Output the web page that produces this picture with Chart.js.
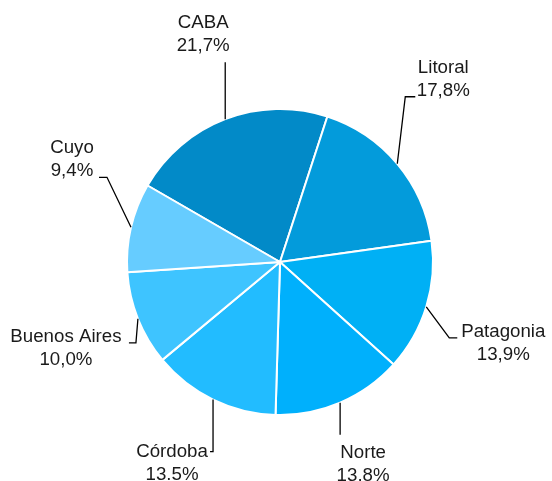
<!DOCTYPE html>
<html>
<head>
<meta charset="utf-8">
<title>Distribución por región</title>
<script src="https://cdn.jsdelivr.net/npm/chart.js@4.4.1/dist/chart.umd.min.js"></script>
<style>
    html, body { margin: 0; padding: 0; background: #ffffff; }
    #chartBox { width: 552px; height: 481px; }
</style>
</head>
<body>
<div id="chartBox"><canvas id="regionChart" width="552" height="481"></canvas></div>
<script>
// Chart data
const regions = ["CABA", "Litoral", "Patagonia", "Norte", "Córdoba", "Buenos Aires", "Cuyo"];
const shares = [21.7, 17.8, 13.9, 13.8, 13.5, 10.0, 9.4];
const shareLabels = ["21,7%", "17,8%", "13,9%", "13.8%", "13.5%", "10,0%", "9,4%"];
const sliceColors = ["#028AC8", "#039BDB", "#00B0F5", "#00B0FC", "#22BCFF", "#3EC4FF", "#66CCFF"];

// Label placement, offsets from the point where the leader meets the slice edge
// elbow / end: leader line points, text: centre of the first text line
const labelLayout = [
    { elbow: [0, -57], end: [0, -57], text: [-22, -96] },   // CABA
    { elbow: [8, -67], end: [18, -67], text: [46, -96] },   // Litoral
    { elbow: [23, 31], end: [31, 31], text: [77, 25] },     // Patagonia
    { elbow: [0, 32], end: [0, 32], text: [23, 50] },       // Norte
    { elbow: [0, 52], end: [-3, 52], text: [-41, 52] },     // Córdoba
    { elbow: [-2, 24], end: [-9, 24], text: [-72, 18] },    // Buenos Aires
    { elbow: [-24, -50], end: [-32, -50], text: [-59, -79] } // Cuyo
];

const labelFont = "18.7px 'Liberation Sans', Arial, sans-serif";
const lineGap = 23;

// Draws the outside labels with leader lines
const leaderLabels = {
    id: "leaderLabels",
    afterDraw(chart) {
        const ctx = chart.ctx;
        const meta = chart.getDatasetMeta(0);
        ctx.save();
        meta.data.forEach((arc, i) => {
            const p = arc.getProps(["x", "y", "startAngle", "endAngle", "outerRadius"], true);
            const mid = (p.startAngle + p.endAngle) / 2;
            const ex = p.x + Math.cos(mid) * p.outerRadius;
            const ey = p.y + Math.sin(mid) * p.outerRadius;
            const lay = labelLayout[i];

            ctx.strokeStyle = "#000000";
            ctx.lineWidth = 1.3;
            ctx.beginPath();
            ctx.moveTo(ex, ey);
            ctx.lineTo(ex + lay.elbow[0], ey + lay.elbow[1]);
            ctx.lineTo(ex + lay.end[0], ey + lay.end[1]);
            ctx.stroke();

            ctx.fillStyle = "#1a1a1a";
            ctx.font = labelFont;
            ctx.textAlign = "center";
            ctx.textBaseline = "middle";
            const tx = ex + lay.text[0];
            const ty = ey + lay.text[1];
            ctx.fillText(regions[i], tx, ty);
            ctx.fillText(shareLabels[i], tx, ty + lineGap);
        });
        ctx.restore();
    }
};

document.addEventListener("DOMContentLoaded", function () {
    const ctx = document.getElementById("regionChart").getContext("2d");
    new Chart(ctx, {
        type: "pie",
        data: {
            labels: regions,
            datasets: [{
                data: shares,
                backgroundColor: sliceColors,
                borderColor: "#ffffff",
                borderWidth: 2
            }]
        },
        options: {
            responsive: false,
            animation: false,
            rotation: -60,
            layout: {
                padding: { left: 126, right: 118, top: 108, bottom: 65 }
            },
            plugins: {
                legend: { display: false },
                tooltip: { enabled: false }
            }
        },
        plugins: [leaderLabels]
    });
});
</script>
</body>
</html>
